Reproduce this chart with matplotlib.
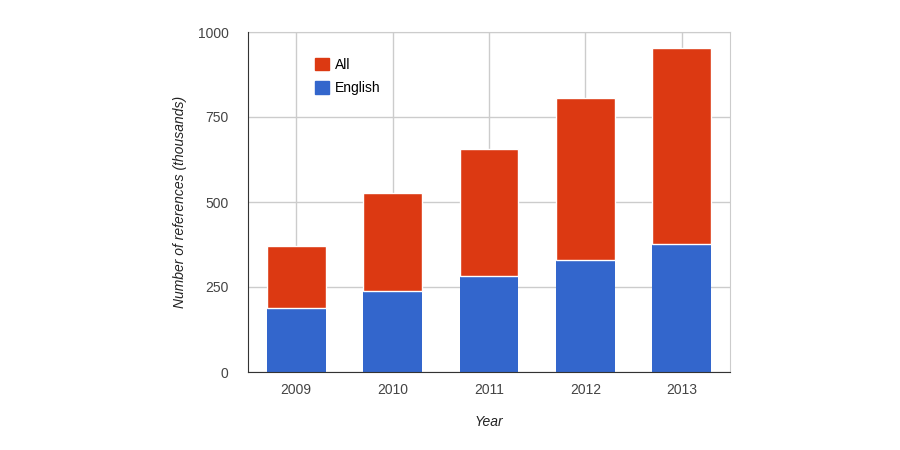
import numpy as np
import matplotlib.pyplot as plt
from matplotlib.patches import Patch

plt.rcParams['font.family'] = ['Liberation Sans', 'DejaVu Sans']

# DATA
years = ['2009', '2010', '2011', '2012', '2013']
english = [188, 238, 282, 329, 376]
all_refs = [372, 526, 657, 807, 954]

blue = '#3366cc'
red = '#dc3912'

fig = plt.figure(figsize=(9, 4.5), dpi=100)
ax = fig.add_axes([248 / 900, 78 / 450, 482 / 900, 340 / 450])

x = np.arange(len(years))
rest = np.array(all_refs) - np.array(english)
ax.bar(x, english, width=0.61, color=blue, zorder=3)
ax.bar(x, rest, bottom=english, width=0.61, color=red, edgecolor='white',
       linewidth=1.0, zorder=3)

ax.set_xlim(-0.5, 4.5)
ax.set_ylim(0, 1000)
ax.set_yticks([0, 250, 500, 750, 1000])
ax.set_xticks(x)
ax.set_xticklabels(years)
ax.grid(True, color='#cccccc', linewidth=1, zorder=0)

for side in ['top', 'right']:
    ax.spines[side].set_color('#cccccc')
for side in ['left', 'bottom']:
    ax.spines[side].set_color('#333333')
    ax.spines[side].set_zorder(4)
ax.tick_params(length=0, labelsize=10, colors='#444444', pad=8)
ax.tick_params(axis='y', pad=14)

ax.set_xlabel('Year', fontsize=10, style='italic', color='#222222', labelpad=13)
ax.set_ylabel('Number of references (thousands)', fontsize=10, style='italic',
              color='#222222', labelpad=8)

handles = [Patch(color=red, label='All'), Patch(color=blue, label='English')]
ax.legend(handles=handles, loc='upper left', bbox_to_anchor=(0.125, 0.945),
          frameon=False, fontsize=10, handlelength=1.0, handleheight=1.0,
          handletextpad=0.4, labelspacing=0.7, borderpad=0)

fig.savefig('out.png', dpi=100)
